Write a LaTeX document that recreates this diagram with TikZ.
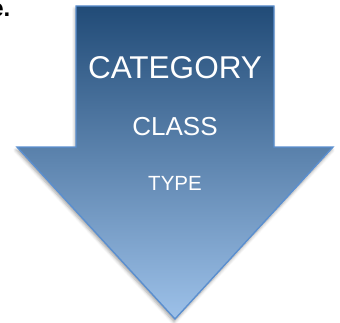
\documentclass[tikz,border=0pt]{standalone}
\usepackage{fontspec}
\setmainfont{Liberation Sans}
\usetikzlibrary{shadows.blur}
\definecolor{arrowtop}{HTML}{214B77}
\definecolor{arrowbot}{HTML}{9DC1E9}
\definecolor{arrowedge}{HTML}{5B8FCF}
\tikzset{
  bigarrow/.style={draw=arrowedge, line width=1.4pt, line join=miter,
    top color=arrowtop, bottom color=arrowbot,
    blur shadow={shadow xshift=-1pt, shadow yshift=-3pt, shadow blur radius=3pt, shadow opacity=35}},
  lbl/.style={text=white, inner sep=0pt, anchor=center},
  frag/.style={font=\bfseries\fontsize{24}{24}\selectfont, text=black, inner sep=0pt, anchor=base east}
}
\begin{document}
\begin{tikzpicture}[x=1pt,y=1pt]
\useasboundingbox (0,0) rectangle (340,322);
\begin{scope}
\clip (0,0) rectangle (340,322);
\node[frag] (frag) at (10.5,305) {e.};
\end{scope}
\path[bigarrow] (76,316) -- (274,316) -- (274,175) -- (333,175) -- (175,3) -- (17,175) -- (76,175) -- cycle;
\node[lbl, font=\fontsize{31.5}{31.5}\selectfont] (cat) at (175,254) {CATEGORY};
\node[lbl, font=\fontsize{26}{26}\selectfont] (cls) at (175,195) {CLASS};
\node[lbl, font=\fontsize{20.5}{20.5}\selectfont] (typ) at (175,139) {TYPE};
\end{tikzpicture}
\end{document}
